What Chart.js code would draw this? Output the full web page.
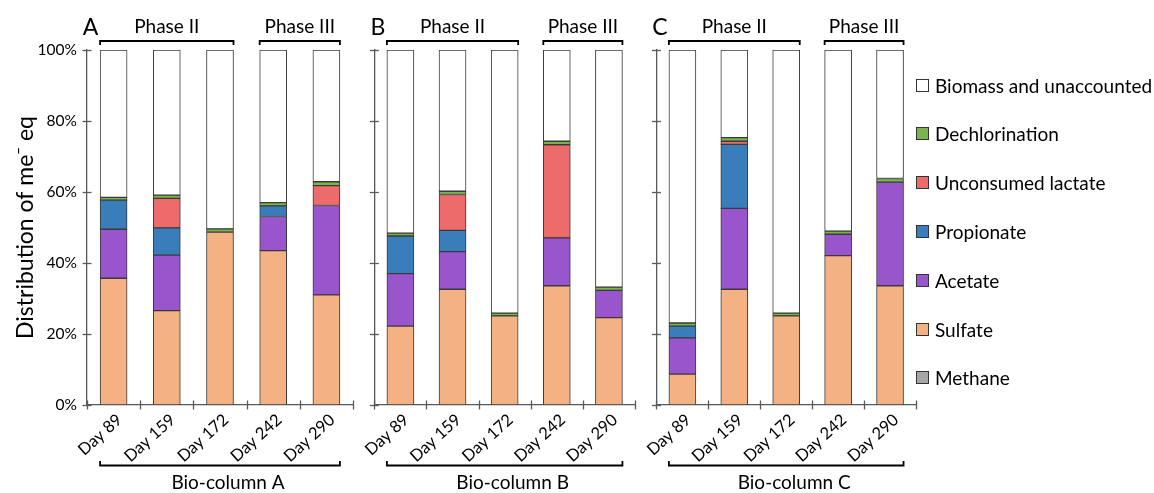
<!DOCTYPE html>
<html>
<head>
<meta charset="utf-8">
<script src="https://cdn.jsdelivr.net/npm/chart.js@4.4.1/dist/chart.umd.min.js"></script>
<style>
  body { margin: 0; background: #fff; }
  #wrap { position: relative; width: 1154px; height: 493px; overflow: hidden; font-family: Lato, sans-serif; }
  #wrap canvas { position: absolute; top: 0; }
  #legend { position: absolute; left: 916px; top: 0; }
  .item { position: absolute; left: 0; white-space: nowrap; font-size: 19px; color: #000; display: flex; align-items: center; }
  .item span.box { display: inline-block; width: 11px; height: 11px; border: 1px solid #333; margin-right: 6px; }
</style>
</head>
<body>
<div id="wrap">
  <canvas id="colA" width="362" height="493" style="left:0px"></canvas>
  <canvas id="colB" width="290" height="493" style="left:355px"></canvas>
  <canvas id="colC" width="290" height="493" style="left:637px"></canvas>
  <div id="legend"></div>
</div>
<script>
const days = ["Day 89", "Day 159", "Day 172", "Day 242", "Day 290"];
const yTicks = [0, 20, 40, 60, 80, 100];

// phase groups above each panel: first / last sampling day index
const phaseNames = ["Phase II", "Phase III"];
const phaseFirst = [0, 3];
const phaseLast = [2, 4];

// % of me- eq, bio-column A
const methaneA = [0, 0, 0, 0, 0];
const sulfateA = [35.7, 26.6, 48.7, 43.5, 31.0];
const acetateA = [13.8, 15.6, 0, 9.6, 25.2];
const propionateA = [8.2, 7.7, 0, 3.0, 0];
const lactateA = [0, 8.3, 0, 0, 5.6];
const dechlorA = [0.8, 0.9, 0.9, 0.9, 1.1];
const biomassA = [41.5, 40.9, 50.4, 43.0, 37.1];

// bio-column B
const methaneB = [0, 0, 0, 0, 0];
const sulfateB = [22.2, 32.6, 25.1, 33.6, 24.6];
const acetateB = [14.8, 10.6, 0, 13.5, 7.7];
const propionateB = [10.6, 6.0, 0, 0, 0];
const lactateB = [0, 10.1, 0, 26.2, 0];
const dechlorB = [0.8, 0.9, 0.8, 1.0, 0.9];
const biomassB = [51.6, 39.8, 74.1, 25.7, 66.8];

// bio-column C
const methaneC = [0, 0, 0, 0, 0];
const sulfateC = [8.7, 32.6, 25.1, 42.1, 33.6];
const acetateC = [10.2, 22.8, 0, 6.0, 29.2];
const propionateC = [3.3, 18.0, 0, 0, 0];
const lactateC = [0, 0.9, 0, 0, 0];
const dechlorC = [0.9, 1.0, 0.8, 0.9, 1.0];
const biomassC = [76.9, 24.7, 74.1, 51.0, 36.2];

const seriesNames = ["Methane", "Sulfate", "Acetate", "Propionate", "Unconsumed lactate", "Dechlorination", "Biomass and unaccounted"];
const seriesColors = ["#a6a6a6", "#f4b183", "#9955cc", "#3a7dbb", "#ee6b6b", "#7ab44a", "#ffffff"];

const FONT = "Lato, sans-serif";
const AXIS = "#595959";
const BAR_W = 27;

function line(ctx, x0, y0, x1, y1) {
  ctx.beginPath();
  ctx.moveTo(x0, y0);
  ctx.lineTo(x1, y1);
  ctx.stroke();
}

// ticks crossing the axes, panel letter, phase brackets and the column bracket
const panelDecor = {
  id: "panelDecor",
  afterDraw(chart, args, opts) {
    const { ctx } = chart;
    const { x, y } = chart.scales;
    ctx.save();
    ctx.strokeStyle = AXIS;
    ctx.lineWidth = 1.3;
    yTicks.forEach(v => {
      const py = Math.round(y.getPixelForValue(v)) + 0.5;
      line(ctx, x.left - 4.5, py, x.left + 4.5, py);
    });
    const n = days.length;
    for (let i = 0; i <= n; i++) {
      const px = Math.round(x.left + i * x.width / n) + 0.5;
      line(ctx, px, y.bottom - 4.5, px, y.bottom + 4.5);
    }

    ctx.strokeStyle = "#000";
    ctx.fillStyle = "#000";
    ctx.lineWidth = 1.8;
    ctx.textAlign = "center";
    ctx.textBaseline = "alphabetic";
    ctx.font = "19px " + FONT;
    phaseNames.forEach((name, i) => {
      const x0 = x.getPixelForValue(phaseFirst[i]) - BAR_W / 2;
      const x1 = x.getPixelForValue(phaseLast[i]) + BAR_W / 2;
      ctx.beginPath();
      ctx.moveTo(x0, 45); ctx.lineTo(x0, 41); ctx.lineTo(x1, 41); ctx.lineTo(x1, 45);
      ctx.stroke();
      ctx.fillText(name, (x0 + x1) / 2, 33);
    });

    // column bracket under the day labels
    const b0 = x.getPixelForValue(0) - BAR_W / 2;
    const b1 = x.getPixelForValue(n - 1) + BAR_W / 2;
    ctx.beginPath();
    ctx.moveTo(b0, 461); ctx.lineTo(b0, 465.5); ctx.lineTo(b1, 465.5); ctx.lineTo(b1, 461);
    ctx.stroke();
    ctx.font = "19px " + FONT;
    ctx.fillText(opts.column, (b0 + b1) / 2 + 8, 489);

    ctx.font = "23px " + FONT;
    ctx.fillText(opts.letter, x.left + 3.5, 35);
    ctx.restore();
  }
};

function makeDatasets(rows) {
  return rows.map((data, i) => ({
    label: seriesNames[i],
    data: data,
    backgroundColor: seriesColors[i],
    borderColor: "#3a3a3a",
    borderWidth: 1,
    borderSkipped: false,
    barThickness: BAR_W
  }));
}

function makeChart(id, rows, letter, column, yWidth, padRight, showLabels) {
  return new Chart(document.getElementById(id), {
    type: "bar",
    data: { labels: days, datasets: makeDatasets(rows) },
    options: {
      responsive: false,
      animation: false,
      layout: { padding: { top: 50, right: padRight, left: 0, bottom: 0 } },
      plugins: {
        legend: { display: false },
        tooltip: { enabled: false },
        panelDecor: { letter: letter, column: column }
      },
      scales: {
        x: {
          stacked: true,
          grid: { display: false, drawTicks: false },
          border: { color: AXIS, width: 1.3 },
          ticks: {
            color: "#000",
            font: { family: FONT, size: 16.5 },
            minRotation: 42,
            maxRotation: 42,
            padding: 5,
            labelOffset: 6,
            autoSkip: false
          },
          afterFit: s => { s.height = 88; }
        },
        y: {
          stacked: true,
          min: 0,
          max: 100,
          grid: { display: false, drawTicks: false },
          border: { color: AXIS, width: 1.3 },
          ticks: {
            display: showLabels,
            stepSize: 20,
            padding: 10,
            color: "#000",
            font: { family: FONT, size: 15.5 },
            callback: v => v + "%"
          },
          title: {
            display: showLabels,
            text: "Distribution of me\u207B eq",
            color: "#000",
            font: { family: FONT, size: 23 },
            padding: { top: 12, bottom: 0 }
          },
          afterFit: s => { s.width = yWidth; }
        }
      }
    },
    plugins: [panelDecor]
  });
}

makeChart("colA", [methaneA, sulfateA, acetateA, propionateA, lactateA, dechlorA, biomassA], "A", "Bio-column A", 87, 9, true);
makeChart("colB", [methaneB, sulfateB, acetateB, propionateB, lactateB, dechlorB, biomassB], "B", "Bio-column B", 16, 10, false);
makeChart("colC", [methaneC, sulfateC, acetateC, propionateC, lactateC, dechlorC, biomassC], "C", "Bio-column C", 16, 11, false);

// legend, top entry first
const legend = document.getElementById("legend");
for (let i = seriesNames.length - 1, k = 0; i >= 0; i--, k++) {
  const item = document.createElement("div");
  item.className = "item";
  item.style.top = (85 + k * 48.8 - 11) + "px";
  item.style.height = "22px";
  item.innerHTML = '<span class="box" style="background:' + seriesColors[i] + '"></span>' + seriesNames[i];
  legend.appendChild(item);
}
</script>
</body>
</html>
